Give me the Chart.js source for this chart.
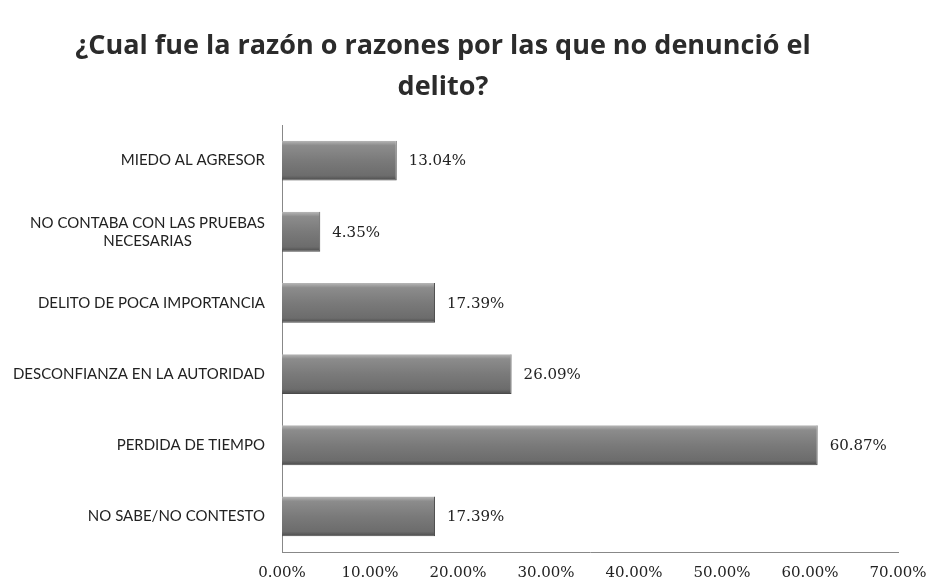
<!DOCTYPE html>
<html>
<head>
<meta charset="utf-8">
<script src="https://cdn.jsdelivr.net/npm/chart.js@4/dist/chart.umd.min.js"></script>
<style>
html,body{margin:0;padding:0;background:#fff;}
#wrap{width:930px;height:580px;position:relative;}
</style>
</head>
<body>
<div id="wrap"><canvas id="c" width="930" height="580"></canvas></div>
<script>
const titleLines = ['¿Cual fue la razón o razones por las que no denunció el', 'delito?'];
const categories = [
  ['MIEDO AL AGRESOR'],
  ['NO CONTABA CON LAS PRUEBAS', 'NECESARIAS'],
  ['DELITO DE POCA IMPORTANCIA'],
  ['DESCONFIANZA EN LA AUTORIDAD'],
  ['PERDIDA DE TIEMPO'],
  ['NO SABE/NO CONTESTO']
];
const values = [13.04, 4.35, 17.39, 26.09, 60.87, 17.39];
const xTicks = [0, 10, 20, 30, 40, 50, 60, 70];

const SERIF = '"DejaVu Serif", "Liberation Serif", serif';

const titlePlugin = {
  id: 'customTitle',
  afterDraw(chart) {
    const ctx = chart.ctx;
    ctx.save();
    ctx.font = 'bold 27px "Open Sans", Lato, sans-serif';
    ctx.fillStyle = '#2b2b2b';
    ctx.textAlign = 'center';
    ctx.textBaseline = 'middle';
    titleLines.forEach((t, i) => ctx.fillText(t, 443, 46 + i * 41));
    ctx.restore();
  }
};

const catLabels = {
  id: 'catLabels',
  afterDraw(chart) {
    const ctx = chart.ctx;
    const ys = chart.scales.y;
    const right = chart.chartArea.left - 17;
    ctx.save();
    ctx.font = '15px Lato, sans-serif';
    ctx.fillStyle = '#222';
    ctx.textBaseline = 'middle';
    const lh = 18;
    categories.forEach((lines, i) => {
      const cy = ys.getPixelForValue(i);
      const widths = lines.map(l => ctx.measureText(l).width);
      const maxW = Math.max(...widths);
      const cx = right - maxW / 2;
      ctx.textAlign = 'center';
      lines.forEach((l, j) => {
        const y = cy + (j - (lines.length - 1) / 2) * lh;
        ctx.fillText(l, cx, y);
      });
    });
    ctx.restore();
  }
};

const valueLabels = {
  id: 'valueLabels',
  afterDatasetsDraw(chart) {
    const ctx = chart.ctx;
    const meta = chart.getDatasetMeta(0);
    ctx.save();
    ctx.font = '15px ' + SERIF;
    ctx.fillStyle = '#222';
    ctx.textAlign = 'left';
    ctx.textBaseline = 'middle';
    meta.data.forEach((bar, i) => {
      ctx.fillText(values[i].toFixed(2) + '%', bar.x + 12, bar.y + 1);
    });
    ctx.restore();
  }
};

function barFill(context) {
  const chart = context.chart;
  const yScale = chart.scales && chart.scales.y;
  if (!chart.chartArea || !yScale || context.dataIndex === undefined) return '#767676';
  const cy = yScale.getPixelForValue(context.dataIndex);
  const h = 20;
  const g = chart.ctx.createLinearGradient(0, cy - h, 0, cy + h);
  g.addColorStop(0, '#b8b8b8');
  g.addColorStop(0.12, '#8c8c8c');
  g.addColorStop(0.5, '#7a7a7a');
  g.addColorStop(0.88, '#6c6c6c');
  g.addColorStop(1, '#4a4a4a');
  return g;
}

new Chart(document.getElementById('c'), {
  type: 'bar',
  data: {
    labels: categories.map(l => l.join(' ')),
    datasets: [{
      data: values,
      backgroundColor: barFill,
      borderColor: '#4a4a4a',
      borderWidth: {top: 0, left: 0, right: 1, bottom: 1},
      categoryPercentage: 0.56,
      barPercentage: 1.0
    }]
  },
  options: {
    indexAxis: 'y',
    responsive: false,
    animation: false,
    layout: {padding: {left: 0, right: 32, top: 125, bottom: 0}},
    plugins: {
      legend: {display: false},
      tooltip: {enabled: false},
      title: {display: false}
    },
    scales: {
      x: {
        min: 0, max: 70,
        afterBuildTicks(s) { s.ticks = xTicks.map(v => ({value: v})); },
        afterFit(s) { s.height = 28; s.paddingRight = 0; s.paddingLeft = 0; },
        grid: {display: false, drawTicks: false},
        border: {display: true, color: '#888', width: 1},
        ticks: {
          padding: 12,
          color: '#222',
          font: {family: SERIF, size: 15},
          callback: v => v.toFixed(2) + '%'
        }
      },
      y: {
        afterFit(s) { s.width = 282; },
        grid: {display: false, drawTicks: false},
        border: {display: true, color: '#888', width: 1},
        ticks: {display: false}
      }
    }
  },
  plugins: [valueLabels, catLabels, titlePlugin]
});
</script>
</body>
</html>
